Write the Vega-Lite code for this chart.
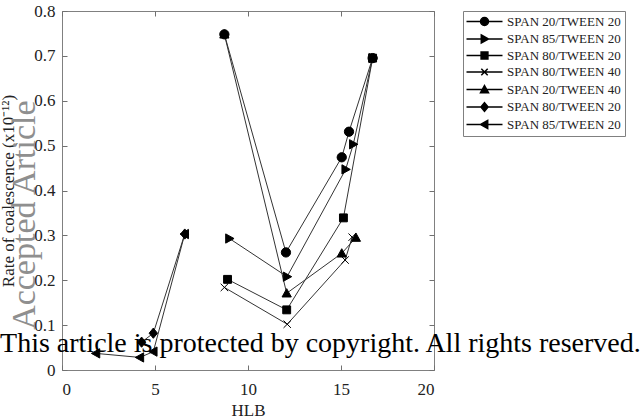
{
  "$schema": "https://vega.github.io/schema/vega-lite/v6.json",
  "width": 372,
  "height": 359,
  "autosize": {"type": "none"},
  "padding": {"left": 62, "top": 11, "right": 210, "bottom": 50},
  "background": "white",
  "config": {
    "view": {"stroke": "#808080", "strokeWidth": 1},
    "axis": {
      "grid": false,
      "domain": false,
      "tickColor": "#707070",
      "tickSize": -5,
      "labelFont": "Liberation Serif",
      "labelFontSize": 17,
      "labelColor": "#222222",
      "titleFont": "Liberation Serif",
      "titleFontSize": 17,
      "titleFontWeight": "normal",
      "titleColor": "#222222"
    }
  },
  "datasets": {
    "pts": [
      {"s": "1 SPAN 20/TWEEN 20", "x": 8.73, "y": 0.748},
      {"s": "1 SPAN 20/TWEEN 20", "x": 12.04, "y": 0.262},
      {"s": "1 SPAN 20/TWEEN 20", "x": 15.04, "y": 0.474},
      {"s": "1 SPAN 20/TWEEN 20", "x": 15.43, "y": 0.531},
      {"s": "1 SPAN 20/TWEEN 20", "x": 16.7, "y": 0.695},
      {"s": "2 SPAN 85/TWEEN 20", "x": 9.0, "y": 0.293},
      {"s": "2 SPAN 85/TWEEN 20", "x": 12.1, "y": 0.208},
      {"s": "2 SPAN 85/TWEEN 20", "x": 15.25, "y": 0.447},
      {"s": "2 SPAN 85/TWEEN 20", "x": 15.66, "y": 0.503},
      {"s": "2 SPAN 85/TWEEN 20", "x": 16.7, "y": 0.695},
      {"s": "3 SPAN 80/TWEEN 20", "x": 8.9, "y": 0.202},
      {"s": "3 SPAN 80/TWEEN 20", "x": 12.08, "y": 0.134},
      {"s": "3 SPAN 80/TWEEN 20", "x": 15.13, "y": 0.339},
      {"s": "3 SPAN 80/TWEEN 20", "x": 16.7, "y": 0.695},
      {"s": "4 SPAN 80/TWEEN 40", "x": 8.73, "y": 0.184},
      {"s": "4 SPAN 80/TWEEN 40", "x": 12.11, "y": 0.102},
      {"s": "4 SPAN 80/TWEEN 40", "x": 15.22, "y": 0.245},
      {"s": "4 SPAN 80/TWEEN 40", "x": 15.6, "y": 0.296},
      {"s": "5 SPAN 20/TWEEN 40", "x": 8.73, "y": 0.748},
      {"s": "5 SPAN 20/TWEEN 40", "x": 12.08, "y": 0.171},
      {"s": "5 SPAN 20/TWEEN 40", "x": 15.04, "y": 0.26},
      {"s": "5 SPAN 20/TWEEN 40", "x": 15.8, "y": 0.295},
      {"s": "6 SPAN 80/TWEEN 20", "x": 4.28, "y": 0.062},
      {"s": "6 SPAN 80/TWEEN 20", "x": 4.91, "y": 0.082},
      {"s": "6 SPAN 80/TWEEN 20", "x": 6.6, "y": 0.303},
      {"s": "7 SPAN 85/TWEEN 20", "x": 1.83, "y": 0.037},
      {"s": "7 SPAN 85/TWEEN 20", "x": 4.19, "y": 0.028},
      {"s": "7 SPAN 85/TWEEN 20", "x": 4.91, "y": 0.041},
      {"s": "7 SPAN 85/TWEEN 20", "x": 6.6, "y": 0.303}
    ]
  },
  "layer": [
    {
      "data": {"name": "pts"},
      "mark": {"type": "line", "color": "#333333", "strokeWidth": 1},
      "encoding": {
        "x": {"field": "x", "type": "quantitative", "scale": {"domain": [0, 20]},
              "axis": {"orient": "bottom", "values": [0, 5, 10, 15, 20], "title": "HLB", "labelPadding": 16, "titlePadding": 5}},
        "y": {"field": "y", "type": "quantitative", "scale": {"domain": [0, 0.8]},
              "axis": {"orient": "left", "values": [0, 0.1, 0.2, 0.3, 0.4, 0.5, 0.6, 0.7, 0.8], "format": "~g",
                       "title": "Rate of coalescence (x10⁻¹²)", "labelPadding": 12, "titlePadding": 16, "titleFontSize": 17}},
        "detail": {"field": "s"}
      }
    },
    {
      "data": {"name": "pts"},
      "mark": {"type": "point", "filled": true, "fill": "black", "stroke": "black", "strokeWidth": 1, "opacity": 0, "size": 86},
      "encoding": {
        "x": {"field": "x", "type": "quantitative", "scale": {"domain": [0, 20]}, "axis": null},
        "y": {"field": "y", "type": "quantitative", "scale": {"domain": [0, 0.8]}, "axis": null},
        "shape": {
          "field": "s", "type": "nominal",
          "scale": {"range": [
            "M-4.5,0L4.5,0M-1,0A1,1,0,1,1,1,0A1,1,0,1,1,-1,0Z",
            "M-4.5,0L4.5,0M-0.8,-1L1,0L-0.8,1Z",
            "M-4.5,0L4.5,0M-0.85,-0.85H0.85V0.85H-0.85Z",
            "M-4.5,0L4.5,0M-0.8,-0.8L0.8,0.8M-0.8,0.8L0.8,-0.8",
            "M-4.5,0L4.5,0M0,-1L1,0.8L-1,0.8Z",
            "M-4.5,0L4.5,0M0,-1.1L0.9,0L0,1.1L-0.9,0Z",
            "M-4.5,0L4.5,0M0.8,-1L-1,0L0.8,1Z"
          ]},
          "legend": {
            "title": null,
            "orient": "right",
            "offset": 28,
            "padding": 4,
            "strokeColor": "#808080",
            "fillColor": "white",
            "labelFont": "Liberation Serif",
            "labelFontSize": 13,
            "labelColor": "#222222",
            "labelExpr": "substring(datum.label, 2)",
            "symbolSize": 64,
            "symbolOffset": 11,
            "labelOffset": 16,
            "rowPadding": 2.5,
            "symbolOpacity": 1,
            "encode": {
              "symbols": {
                "fill": {"value": "black"},
                "stroke": {"value": "#222222"},
                "strokeWidth": {"value": 1},
                "strokeOpacity": {"value": 1},
                "fillOpacity": {"value": 1},
                "opacity": {"value": 1}
              }
            }
          }
        }
      }
    },
    {
      "data": {"name": "pts"},
      "mark": {"type": "point", "filled": true, "fill": "black", "stroke": "black", "strokeWidth": 1, "opacity": 1, "size": 86},
      "encoding": {
        "x": {"field": "x", "type": "quantitative", "scale": {"domain": [0, 20]},
              "axis": {"orient": "top", "values": [0, 5, 10, 15, 20], "labels": false, "title": null}},
        "y": {"field": "y", "type": "quantitative", "scale": {"domain": [0, 0.8]},
              "axis": {"orient": "right", "values": [0, 0.1, 0.2, 0.3, 0.4, 0.5, 0.6, 0.7, 0.8], "labels": false, "title": null}},
        "shape": {
          "field": "s", "type": "nominal",
          "scale": {"range": [
            "M-1,0A1,1,0,1,1,1,0A1,1,0,1,1,-1,0Z",
            "M-0.8,-1L1,0L-0.8,1Z",
            "M-0.85,-0.85H0.85V0.85H-0.85Z",
            "M-0.8,-0.8L0.8,0.8M-0.8,0.8L0.8,-0.8",
            "M0,-1L1,0.8L-1,0.8Z",
            "M0,-1.1L0.9,0L0,1.1L-0.9,0Z",
            "M0.8,-1L-1,0L0.8,1Z"
          ]},
          "legend": null
        }
      }
    },
    {
      "data": {"values": [{"x": -2.0, "y": 0.345, "t": "Accepted Article"}]},
      "mark": {"type": "text", "angle": 270, "align": "center", "baseline": "middle", "font": "Liberation Serif", "fontSize": 34, "color": "#8f8f8f"},
      "encoding": {
        "x": {"field": "x", "type": "quantitative", "scale": {"domain": [0, 20]}, "axis": null},
        "y": {"field": "y", "type": "quantitative", "scale": {"domain": [0, 0.8]}, "axis": null},
        "text": {"field": "t"}
      }
    },
    {
      "data": {"values": [{"x": -3.33, "y": 0.04, "t": "This article is protected by copyright. All rights reserved."}]},
      "mark": {"type": "text", "align": "left", "baseline": "alphabetic", "font": "Liberation Serif", "fontSize": 28, "color": "black"},
      "encoding": {
        "x": {"field": "x", "type": "quantitative", "scale": {"domain": [0, 20]}, "axis": null},
        "y": {"field": "y", "type": "quantitative", "scale": {"domain": [0, 0.8]}, "axis": null},
        "text": {"field": "t"}
      }
    }
  ],
  "resolve": {"scale": {"shape": "independent"}, "axis": {"x": "independent", "y": "independent"}}
}
